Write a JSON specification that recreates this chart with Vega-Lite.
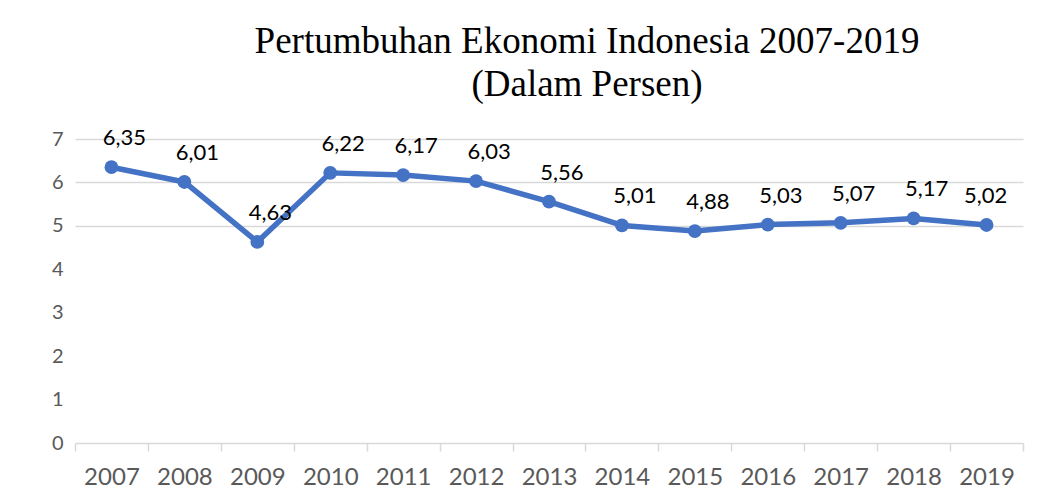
{
  "$schema": "https://vega.github.io/schema/vega-lite/v6.json",
  "width": 948,
  "height": 304,
  "autosize": {"type": "none"},
  "padding": {"left": 75, "top": 139, "right": 29, "bottom": 60},
  "background": "white",
  "title": {
    "text": ["Pertumbuhan Ekonomi Indonesia 2007-2019", "(Dalam Persen)"],
    "font": "Liberation Serif",
    "fontSize": 37,
    "fontWeight": "normal",
    "color": "#000000",
    "lineHeight": 43,
    "anchor": "middle",
    "dx": 38,
    "offset": 23
  },
  "data": {
    "values": [
      {"tahun": "2007", "nilai": 6.35, "label": "6,35"},
      {"tahun": "2008", "nilai": 6.01, "label": "6,01"},
      {"tahun": "2009", "nilai": 4.63, "label": "4,63"},
      {"tahun": "2010", "nilai": 6.22, "label": "6,22"},
      {"tahun": "2011", "nilai": 6.17, "label": "6,17"},
      {"tahun": "2012", "nilai": 6.03, "label": "6,03"},
      {"tahun": "2013", "nilai": 5.56, "label": "5,56"},
      {"tahun": "2014", "nilai": 5.01, "label": "5,01"},
      {"tahun": "2015", "nilai": 4.88, "label": "4,88"},
      {"tahun": "2016", "nilai": 5.03, "label": "5,03"},
      {"tahun": "2017", "nilai": 5.07, "label": "5,07"},
      {"tahun": "2018", "nilai": 5.17, "label": "5,17"},
      {"tahun": "2019", "nilai": 5.02, "label": "5,02"}
    ]
  },
  "encoding": {
    "x": {
      "field": "tahun",
      "type": "ordinal",
      "scale": {"type": "band", "paddingInner": 0, "paddingOuter": 0},
      "axis": {
        "title": null,
        "labelAngle": 0,
        "labelFont": "Lato",
        "labelFontSize": 24,
        "labelColor": "#595959",
        "labelPadding": 14,
        "domainColor": "#D9D9D9",
        "domainWidth": 1.5,
        "tickColor": "#D9D9D9",
        "tickWidth": 1.5,
        "tickSize": 8,
        "tickBand": "extent",
        "grid": false
      }
    },
    "y": {
      "field": "nilai",
      "type": "quantitative",
      "scale": {"domain": [0, 7], "nice": false, "zero": true},
      "axis": {
        "title": null,
        "values": [0, 1, 2, 3, 4, 5, 6, 7],
        "labelFont": "Lato",
        "labelFontSize": 20,
        "labelColor": "#595959",
        "labelPadding": 12,
        "ticks": false,
        "domain": false,
        "grid": true,
        "gridColor": "#D9D9D9",
        "gridWidth": 1.5,
        "gridOpacity": {"condition": {"test": "datum.value >= 5", "value": 1}, "value": 0}
      }
    }
  },
  "layer": [
    {
      "mark": {"type": "line", "color": "#4472C4", "strokeWidth": 5.5, "strokeJoin": "round"}
    },
    {
      "mark": {"type": "point", "filled": true, "color": "#4472C4", "size": 190, "opacity": 1}
    },
    {
      "transform": [{"filter": "datum.tahun != '2019'"}],
      "mark": {"type": "text", "font": "Lato", "fontSize": 22, "color": "#000000", "dx": 13, "dy": -29, "baseline": "middle"},
      "encoding": {"text": {"field": "label"}}
    },
    {
      "transform": [{"filter": "datum.tahun == '2019'"}],
      "mark": {"type": "text", "font": "Lato", "fontSize": 22, "color": "#000000", "dx": -1, "dy": -29, "baseline": "middle"},
      "encoding": {"text": {"field": "label"}}
    }
  ],
  "config": {"view": {"stroke": null}}
}
